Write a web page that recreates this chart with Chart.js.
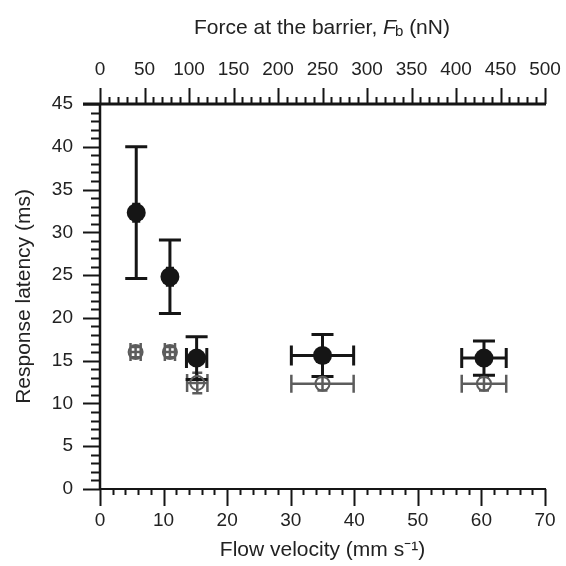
<!DOCTYPE html>
<html>
<head>
<meta charset="utf-8">
<script src="https://cdn.jsdelivr.net/npm/chart.js@4.4.0/dist/chart.umd.min.js"></script>
<style>
  html, body { margin: 0; padding: 0; background: #fff; }
</style>
</head>
<body>
<canvas id="chartLatency" width="566" height="566"></canvas>
<script>
// DATI
const velocityFilled = [5.7, 11.0, 15.2, 35.0, 60.4];
const latencyFilled = [32.3, 24.8, 15.3, 15.6, 15.3];
const yErrFilled = [7.7, 4.3, 2.5, 2.45, 2.0];
const xErrFilled = [0.4, 0.4, 1.6, 4.9, 3.5];

const velocityOpen = [5.6, 11.0, 15.3, 35.0, 60.4];
const latencyOpen = [16.0, 16.0, 12.4, 12.3, 12.3];
const yErrOpen = [0.6, 0.6, 1.2, 0.8, 0.8];
const xErrOpen = [0.8, 0.8, 1.6, 4.9, 3.5];

const velocityTicks = [0, 10, 20, 30, 40, 50, 60, 70];
const forceTicks = [0, 50, 100, 150, 200, 250, 300, 350, 400, 450, 500];
const latencyTicks = [0, 5, 10, 15, 20, 25, 30, 35, 40, 45];

const FONT = "'Liberation Sans', Arial, sans-serif";
const BLACK = '#151515';
const GREY = '#5c5c5c';
const TEXT = '#222';

// BARRE D'ERRORE
const errorBars = {
  id: 'errorBars',
  beforeDatasetsDraw(chart) {
    const { ctx, scales: { x, y } } = chart;
    // prima le grigie, poi le nere sopra
    [1, 0].forEach(idx => {
      const ds = chart.data.datasets[idx];
      ctx.save();
      ctx.strokeStyle = ds.borderColor;
      ctx.lineWidth = ds.errWidth;
      ds.data.forEach((p, i) => {
        const px = x.getPixelForValue(p.x);
        const py = y.getPixelForValue(p.y);
        const top = y.getPixelForValue(p.y + ds.yErr[i]);
        const bot = y.getPixelForValue(p.y - ds.yErr[i]);
        const lft = x.getPixelForValue(p.x - ds.xErr[i]);
        const rgt = x.getPixelForValue(p.x + ds.xErr[i]);
        const cw = ds.capY;
        const ch = ds.capX;
        ctx.beginPath();
        ctx.moveTo(px, top); ctx.lineTo(px, bot);
        ctx.moveTo(px - cw, top); ctx.lineTo(px + cw, top);
        ctx.moveTo(px - cw, bot); ctx.lineTo(px + cw, bot);
        ctx.moveTo(lft, py); ctx.lineTo(rgt, py);
        ctx.moveTo(lft, py - ch); ctx.lineTo(lft, py + ch);
        ctx.moveTo(rgt, py - ch); ctx.lineTo(rgt, py + ch);
        ctx.stroke();
      });
      ctx.restore();
    });
  }
};

// ASSI con tacche maggiori e minori
const axesFrame = {
  id: 'axesFrame',
  afterDraw(chart) {
    const { ctx, chartArea: a, scales } = chart;
    const x = scales.x, y = scales.y, x2 = scales.x2;
    ctx.save();
    ctx.strokeStyle = BLACK;
    ctx.lineCap = 'butt';

    // asse inferiore
    ctx.lineWidth = 2;
    ctx.beginPath();
    ctx.moveTo(a.left - 1, a.bottom); ctx.lineTo(a.right + 1, a.bottom);
    for (let v = 0; v <= 70; v += 2) {
      const px = Math.round(x.getPixelForValue(v)) + 0.5;
      const len = v % 10 === 0 ? 17 : 6;
      ctx.moveTo(px, a.bottom); ctx.lineTo(px, a.bottom + len);
    }
    ctx.stroke();

    // asse superiore
    ctx.lineWidth = 3;
    ctx.beginPath();
    ctx.moveTo(a.left - 17, a.top); ctx.lineTo(a.right + 1, a.top);
    ctx.stroke();
    ctx.lineWidth = 2;
    ctx.beginPath();
    for (let v = 0; v <= 500; v += 10) {
      const px = Math.round(x2.getPixelForValue(v)) + 0.5;
      const len = v % 50 === 0 ? 16 : 7;
      ctx.moveTo(px, a.top); ctx.lineTo(px, a.top - len);
    }
    ctx.stroke();

    // asse sinistro
    ctx.lineWidth = 2.5;
    ctx.beginPath();
    ctx.moveTo(a.left, a.top); ctx.lineTo(a.left, a.bottom + 1);
    ctx.stroke();
    ctx.lineWidth = 2;
    ctx.beginPath();
    for (let v = 0; v <= 45; v += 1) {
      const py = Math.round(y.getPixelForValue(v)) + 0.5;
      const len = v % 5 === 0 ? 17 : 9;
      ctx.moveTo(a.left, py); ctx.lineTo(a.left - len, py);
    }
    ctx.stroke();

    // titolo superiore con F corsivo e pedice b
    ctx.fillStyle = TEXT;
    ctx.textBaseline = 'middle';
    ctx.textAlign = 'left';
    const p1 = 'Force at the barrier, ';
    const p2 = 'F';
    const p3 = 'b';
    const p4 = ' (nN)';
    ctx.font = '21px ' + FONT;
    const w1 = ctx.measureText(p1).width;
    const w4 = ctx.measureText(p4).width;
    ctx.font = 'italic 21px ' + FONT;
    const w2 = ctx.measureText(p2).width;
    ctx.font = '15px ' + FONT;
    const w3 = ctx.measureText(p3).width;
    const total = w1 + w2 + w3 + w4;
    let tx = (x2.left + x2.right) / 2 - total / 2;
    const ty = 28;
    ctx.font = '21px ' + FONT;
    ctx.fillText(p1, tx, ty); tx += w1;
    ctx.font = 'italic 21px ' + FONT;
    ctx.fillText(p2, tx, ty); tx += w2 - 1;
    ctx.font = '15px ' + FONT;
    ctx.fillText(p3, tx, ty + 4); tx += w3;
    ctx.font = '21px ' + FONT;
    ctx.fillText(p4, tx, ty);
    ctx.restore();
  }
};

const noSidePadding = s => { s.paddingLeft = 0; s.paddingRight = 0; };

const ctx = document.getElementById('chartLatency').getContext('2d');
new Chart(ctx, {
  type: 'scatter',
  data: {
    datasets: [
      {
        label: 'Filled',
        data: velocityFilled.map((v, i) => ({ x: v, y: latencyFilled[i] })),
        xErr: xErrFilled,
        yErr: yErrFilled,
        capY: 11,
        capX: 10,
        errWidth: 3,
        pointRadius: 9.5,
        pointStyle: 'circle',
        backgroundColor: BLACK,
        borderColor: BLACK,
        borderWidth: 0
      },
      {
        label: 'Open',
        data: velocityOpen.map((v, i) => ({ x: v, y: latencyOpen[i] })),
        xErr: xErrOpen,
        yErr: yErrOpen,
        capY: 5,
        capX: 9,
        errWidth: 2.5,
        pointRadius: 7,
        pointStyle: 'circle',
        backgroundColor: 'rgba(0,0,0,0)',
        borderColor: GREY,
        borderWidth: 2
      }
    ]
  },
  options: {
    responsive: false,
    animation: false,
    layout: { padding: { left: 0, right: 21, top: 0, bottom: 0 } },
    plugins: { legend: { display: false }, tooltip: { enabled: false } },
    scales: {
      x: {
        type: 'linear',
        position: 'bottom',
        min: 0, max: 70,
        afterBuildTicks: s => { s.ticks = velocityTicks.map(v => ({ value: v })); },
        afterFit: s => { s.height = 77; noSidePadding(s); },
        grid: { display: false, drawTicks: false },
        border: { display: false },
        ticks: { color: TEXT, font: { family: FONT, size: 19 }, padding: 20, maxRotation: 0, autoSkip: false },
        title: { display: true, text: 'Flow velocity (mm s\u207B\u00B9)', color: TEXT, font: { family: FONT, size: 21 }, padding: { top: 0, bottom: 3 } }
      },
      x2: {
        type: 'linear',
        position: 'top',
        min: 0, max: 500,
        afterBuildTicks: s => { s.ticks = forceTicks.map(v => ({ value: v })); },
        afterFit: s => { s.height = 104; noSidePadding(s); },
        grid: { display: false, drawTicks: false },
        border: { display: false },
        ticks: { color: TEXT, font: { family: FONT, size: 19 }, padding: 23, maxRotation: 0, autoSkip: false }
      },
      y: {
        type: 'linear',
        min: 0, max: 45,
        afterBuildTicks: s => { s.ticks = latencyTicks.map(v => ({ value: v })); },
        afterFit: s => { s.width = 100; s.paddingTop = 0; s.paddingBottom = 0; },
        grid: { display: false, drawTicks: false },
        border: { display: false },
        ticks: { color: TEXT, font: { family: FONT, size: 19 }, padding: 27, autoSkip: false },
        title: { display: true, text: 'Response latency (ms)', color: TEXT, font: { family: FONT, size: 21 }, padding: { top: 12, bottom: 0 } }
      }
    }
  },
  plugins: [errorBars, axesFrame]
});
</script>
</body>
</html>
